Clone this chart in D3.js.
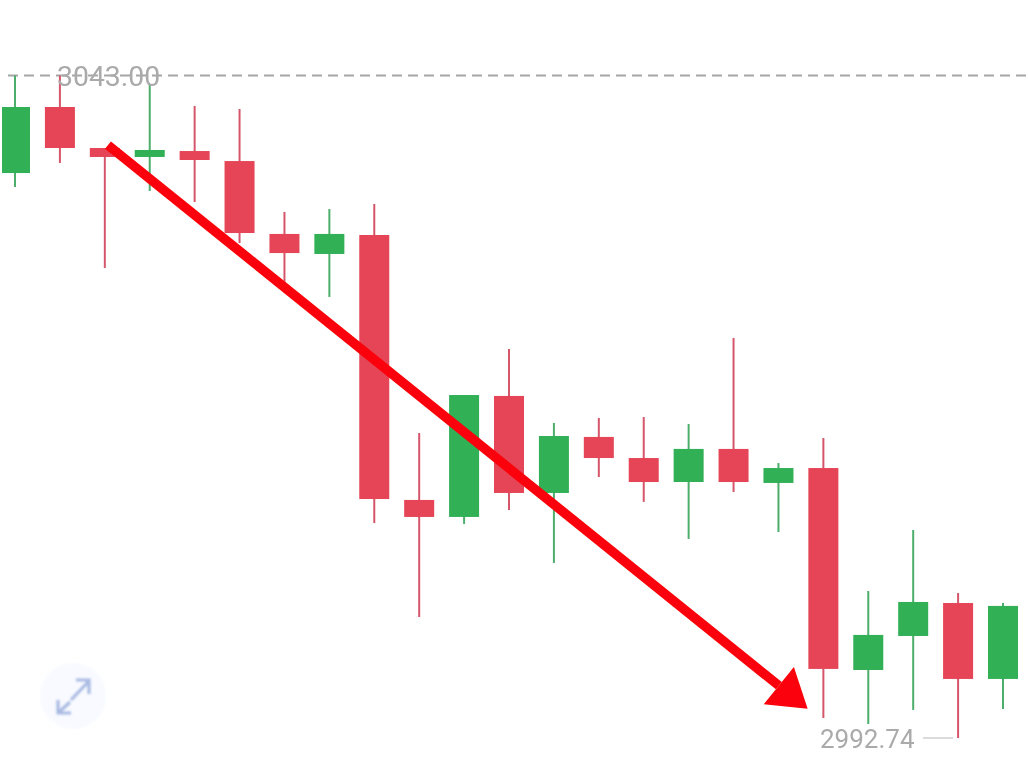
<!DOCTYPE html>
<html><head><meta charset="utf-8">
<script src="https://cdn.jsdelivr.net/npm/d3@7/dist/d3.min.js"></script>
<style>html,body{margin:0;padding:0;background:#fff;overflow:hidden}svg{display:block}text{font-family:Roboto,sans-serif}</style>
</head><body><div id="chart"></div>
<script>
const opens  = [3035.60,3040.61,3037.50,3036.82,3037.27,3036.51,3030.98,3029.46,3030.90,3010.80,3009.51,3018.69,3011.33,3015.58,3013.98,3012.16,3014.67,3012.09,3013.22,2997.90,3000.48,3002.98,2997.22];
const closes = [3040.61,3037.50,3036.82,3037.35,3036.59,3031.05,3029.53,3030.98,3010.87,3009.51,3018.76,3011.33,3015.65,3013.98,3012.16,3014.67,3012.16,3013.22,2997.98,3000.56,3003.06,2997.22,3002.76];
const highs  = [3043.00,3043.00,3037.50,3042.36,3040.69,3040.46,3032.65,3032.87,3033.25,3015.88,3018.76,3022.25,3016.64,3017.02,3017.09,3016.56,3023.09,3013.60,3015.50,3003.89,3008.52,3003.74,3002.98];
const lows   = [3034.54,3036.36,3028.40,3034.24,3033.40,3030.29,3027.11,3026.20,3009.05,3001.92,3008.98,3010.04,3006.02,3012.54,3010.65,3007.84,3011.40,3008.37,2994.26,2993.80,2994.87,2992.74,2994.94];
const maxLabel = "3043.00", minLabel = "2992.74";
const maxPrice = 3043.00, minPrice = 2992.74;
const trendFrom = [2.07,3037.72], trendTo = [17.65,2994.95];

const W=1028,H=759;
const svg=d3.select("#chart").append("svg").attr("width",W).attr("height",H).attr("viewBox",`0 0 ${W} ${H}`);
const x=d3.scaleLinear().domain([0,22]).range([15,1003]);
const y=d3.scaleLinear().domain([minPrice,maxPrice]).range([738,75.5]);
const up="#31b057",down="#e54556",upW="#4dae6c",downW="#d5566a";
const idx=d3.range(opens.length), isUp=i=>closes[i]>=opens[i];

const defs=svg.append("defs");
defs.append("filter").attr("id","soft").append("feGaussianBlur").attr("stdDeviation",1);
defs.append("filter").attr("id","fine").append("feGaussianBlur").attr("stdDeviation",0.35);
defs.append("clipPath").attr("id","plot").append("rect").attr("x",2).attr("y",0).attr("width",W).attr("height",H);

const main=svg.append("g").attr("filter","url(#fine)");
main.append("line").attr("x1",8).attr("x2",W).attr("y1",y(maxPrice)).attr("y2",y(maxPrice))
  .attr("stroke","#a6a6a6").attr("stroke-width",2).attr("stroke-dasharray","10 6");

main.append("g").selectAll("line").data(idx).join("line")
  .attr("x1",i=>x(i)).attr("x2",i=>x(i)).attr("y1",i=>y(highs[i])).attr("y2",i=>y(lows[i]))
  .attr("stroke",i=>isUp(i)?upW:downW).attr("stroke-width",2);
main.append("g").attr("clip-path","url(#plot)").selectAll("rect").data(idx).join("rect")
  .attr("x",i=>x(i)-15).attr("width",30)
  .attr("y",i=>y(Math.max(opens[i],closes[i])))
  .attr("height",i=>Math.abs(y(opens[i])-y(closes[i])))
  .attr("fill",i=>isUp(i)?up:down);

main.append("text").attr("x",57).attr("y",86).attr("font-size",28.4).attr("fill","#aaaaaa").text(maxLabel);
main.append("text").attr("x",820).attr("y",748).attr("font-size",26).attr("fill","#aaaaaa").text(minLabel);
main.append("line").attr("x1",923).attr("x2",953).attr("y1",y(minPrice)).attr("y2",y(minPrice)).attr("stroke","#cfcfcf").attr("stroke-width",1.5);

// trend arrow
const ax0=x(trendFrom[0]),ay0=y(trendFrom[1]),ax1=x(trendTo[0]),ay1=y(trendTo[1]);
const ang=Math.atan2(ay1-ay0,ax1-ax0);
const L=37,Hw=24;
const bx=ax1-L*Math.cos(ang),by=ay1-L*Math.sin(ang);
const g=main.append("g");
g.append("line").attr("x1",ax0).attr("y1",ay0).attr("x2",bx).attr("y2",by).attr("stroke","#fb0007").attr("stroke-width",9.5);
g.append("polygon").attr("fill","#fb0007").attr("points",[
  [ax1,ay1],
  [bx-Hw*Math.sin(ang),by+Hw*Math.cos(ang)],
  [bx+Hw*Math.sin(ang),by-Hw*Math.cos(ang)]].map(p=>p.join(",")).join(" "));

// expand button
const ic=svg.append("g").attr("transform","translate(73,696)");
ic.append("circle").attr("r",33).attr("fill","#f8faff").attr("filter","url(#soft)");
const ig=ic.append("g").attr("fill","none").attr("stroke","#a9bae2").attr("stroke-width",3.2).attr("filter","url(#soft)");
ig.append("path").attr("d","M-2,4 L16,-15 M3,-16 H16 V-2");
ig.append("path").attr("d","M-3,6 L-15,17 M-15,4 V17 H-2");
</script></body></html>
